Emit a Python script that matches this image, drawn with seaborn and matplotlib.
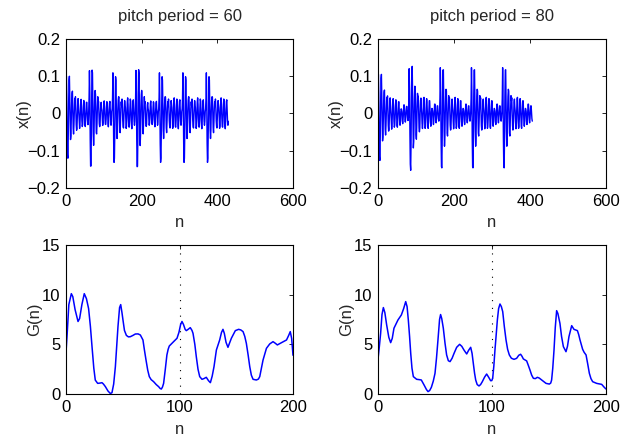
import numpy as np
import pandas as pd
import matplotlib
matplotlib.use("Agg")
import matplotlib.pyplot as plt
import seaborn as sns

# Vocal-tract impulse response (one pitch pulse), sample by sample
pulse = [0.03, 0.10, 0.05, -0.05, -0.11, -0.12, -0.06, 0.03, 0.09, 0.10,
         0.04, -0.03, -0.07, -0.06, -0.01, 0.03, 0.055, 0.06, 0.01, -0.04,
         -0.055, -0.03, 0.01, 0.04, 0.035, 0.045, 0.01, -0.03, -0.045, -0.04,
         0.0, 0.03, 0.04, 0.02, 0.005, -0.025, -0.04, -0.025, 0.01, 0.035,
         0.038, 0.015, -0.02, -0.035, -0.03, -0.01, 0.02, 0.035, 0.025, -0.005,
         -0.03, -0.035, -0.012, 0.015, 0.03, 0.03, 0.005, -0.02, -0.03, -0.02,
         0.005, 0.012, 0.01, 0.004, -0.018, -0.026, -0.015, 0.006, 0.022, 0.022,
         0.004, -0.015, -0.022, -0.012, 0.006, 0.018, 0.018, 0.004, -0.012, -0.018,
         -0.01, 0.003, 0.006, 0.008, 0.003, -0.01, -0.015, -0.008, 0.004, 0.012,
         0.012, 0.003, -0.008, -0.012, -0.007, 0.003, 0.01, 0.01, 0.002, -0.007,
         -0.01, -0.006, 0.002, 0.008, 0.008, 0.002, -0.005, -0.008, -0.005, 0.002,
         0.006, 0.006, 0.001, -0.004, -0.006, -0.004, 0.001, 0.005, 0.004, 0.0]

# Glottal pulse onsets and amplitudes for the two pitch periods
onsets_60 = [0, 61, 123, 184, 246, 308, 370]
amps_60 = [1.0, 1.05, 1.05, 1.05, 1.05, 1.05, 1.05]
length_60 = 430

onsets_80 = [0, 81, 163, 245, 327]
amps_80 = [1.05, 1.14, 1.14, 1.14, 1.14]
length_80 = 407

# G(n) for pitch period 60
g60_n = [0, 1, 2.5, 4.7, 6, 8, 10.6, 12, 14, 16.1, 18, 19.9, 21.5, 22.9, 24.5, 25.8,
         27.9, 30, 31.7, 33, 34.7, 37, 39.1, 40.5, 42, 43.5, 45.8, 47.2, 48.2, 49.3,
         50.2, 51.5, 53.2, 55, 56.7, 59, 61.1, 63.5, 65.5, 67.8, 69, 70.5, 72, 73.4,
         75, 77.2, 79.5, 81.6, 83, 84, 85, 86, 87.5, 88.9, 90, 91, 94.8, 97.8, 99.5,
         101, 102.2, 103.5, 105, 106, 107.5, 109.5, 111, 111.9, 113.5, 114.8, 116.3,
         117.8, 119.8, 121.5, 123.6, 125.5, 127.2, 128.8, 130.4, 132.5, 135.4, 137,
         138.3, 139.5, 141, 142.7, 144, 145.7, 149.2, 152.1, 154, 156, 157.5, 158.9,
         160.5, 161.9, 163.3, 164.8, 167.7, 169.5, 170.7, 172, 173.6, 176.6, 179.5,
         182.4, 184.5, 186.2, 189.9, 194.3, 196.2, 197.6, 198.8, 200]
g60 = [4.2, 6.0, 9.0, 10.1, 9.8, 8.5, 7.3, 7.6, 9.0, 10.1, 9.6, 8.6, 6.8, 4.8, 2.6, 1.4,
       1.07, 1.1, 1.14, 1.0, 0.74, 0.3, 0.05, 0.13, 1.0, 2.75, 6.8, 8.7, 9.0, 8.2,
       7.45, 6.4, 5.9, 5.75, 5.77, 5.9, 6.04, 6.05, 5.94, 5.44, 4.5, 3.42, 2.4, 1.75,
       1.45, 1.24, 0.95, 0.74, 0.55, 0.5, 0.7, 1.07, 2.5, 3.93, 4.5, 4.83, 5.27, 5.61, 6.2,
       7.0, 7.3, 7.0, 6.5, 6.38, 6.5, 6.68, 6.4, 6.11, 5.0, 3.76, 2.5,
       1.75, 1.48, 1.55, 1.68, 1.35, 1.14, 1.8, 2.75, 4.43, 5.44, 6.2,
       6.51, 6.1, 5.2, 4.7, 5.1, 5.61, 6.38, 6.51, 6.45, 6.28, 5.8, 5.10,
       3.9, 2.75, 1.9, 1.48, 1.41, 1.5, 1.75, 2.5, 3.42, 4.6, 5.04,
       5.27, 5.1, 4.94, 5.17, 5.44, 5.9, 6.28, 5.6, 3.9]

# G(n) for pitch period 80
g80_n = [0, 1.2, 2.3, 3.5, 4.7, 6, 7.6, 9.5, 11.1, 12.5, 14, 17.5, 20.5, 22.5, 24.3,
         25.5, 26.6, 27.7, 28.7, 29.8, 31, 33.9, 36, 38, 40.4, 42.5, 43.9, 45.3, 46.8,
         48.5, 50, 51.3, 52.6, 54, 54.9, 55.9, 57.3, 58.8, 60.2, 61.7, 63.2, 65, 66.7,
         69, 71.6, 73.5, 75.4, 77.8, 79.5, 81.3, 82.5, 83.6, 84.7, 85.7, 87, 88.6, 90,
         91.5, 93.5, 95.3, 97, 98.8, 99.8, 100.6, 101.6, 102.6, 103.7, 104.7, 105.8,
         107, 108.2, 109.4, 110.8, 112.3, 113.7, 115.2, 117, 119.3, 121.6, 123.5,
         125.1, 126.3, 127.5, 130.4, 131.8, 133.3, 134.8, 136.3, 138, 139.8, 141.5,
         143.6, 147.4, 150.3, 151.5, 152.3, 153.3, 154.4, 155.5, 156.7, 157.8, 159.6,
         161, 162.6, 164.9, 166.2, 167.5, 169.9, 171.9, 174.9, 176, 177.2, 179.5,
         180.8, 182.5, 184, 185.4, 186.8, 188.3, 191.8, 196.2, 198.5, 200]
g80 = [3.5, 4.8, 6.1, 8.0, 8.7, 8.2, 6.95, 5.7, 5.17, 5.6, 6.62, 7.45, 7.96, 8.6, 9.3,
       8.8, 7.45, 5.8, 4.09, 2.6, 1.75, 1.48, 1.45, 1.41, 0.91, 0.45, 0.24, 0.35, 0.67,
       1.3, 2.08, 3.6, 5.44, 7.5, 8.0, 7.6, 6.62, 5.1, 3.93, 3.35, 3.26, 3.6, 4.09,
       4.7, 5.0, 4.8, 4.43, 4.03, 4.4, 4.70, 4.1, 3.09, 2.1, 1.41, 0.95, 0.81, 0.95,
       1.24, 1.7, 2.01, 1.7, 1.34, 1.35, 1.58, 2.8, 4.43, 6.0, 7.45, 8.6,
       9.06, 8.8, 8.29, 6.8, 5.44, 4.5, 3.93, 3.6, 3.49, 3.59, 3.9,
       4.0, 3.8, 3.53, 3.33, 2.9, 2.42, 1.9, 1.58, 1.55, 1.68, 1.6,
       1.41, 1.07, 1.0, 1.1, 1.41, 2.6, 4.43, 6.7, 8.39, 8.1, 7.11,
       5.8, 4.77, 4.26, 4.8, 5.77, 6.88, 6.51, 6.38, 6.0, 5.44, 4.5,
       4.2, 3.93, 3.0, 2.08, 1.55, 1.24, 1.07, 0.97, 0.67, 0.5]

titles = ["pitch period = 60", "pitch period = 80"]
marker_n = 100


def synthesize(onsets, amps, length):
    h = np.asarray(pulse)
    x = np.zeros(length)
    for t0, a in zip(onsets, amps):
        seg = h[: max(0, min(len(h), length - t0))]
        x[t0:t0 + len(seg)] += a * seg
    return x


sns.set_style("white")
plt.rcParams["font.family"] = ["Liberation Sans", "DejaVu Sans"]
plt.rcParams["axes.unicode_minus"] = True

fig = plt.figure(figsize=(6.23, 4.37), dpi=100)
col_x = [66 / 623, 378 / 623]
col_w = [227 / 623, 228 / 623]
row_y = [1 - 188 / 437, 1 - 394 / 437]
row_h = 149 / 437

blue = (0, 0, 1)
fs = 12


def style(ax):
    for s in ax.spines.values():
        s.set_color("black")
        s.set_linewidth(0.8)
        s.set_visible(True)
    ax.tick_params(direction="in", length=3, width=0.6, top=True, right=True,
                   labelsize=fs, colors="black", pad=4)
    ax.grid(False)


signals = [synthesize(onsets_60, amps_60, length_60),
           synthesize(onsets_80, amps_80, length_80)]
gcurves = [(g60_n, g60), (g80_n, g80)]

for c in range(2):
    ax = fig.add_axes([col_x[c], row_y[0], col_w[c], row_h])
    x = signals[c]
    df = pd.DataFrame({"n": np.arange(len(x)), "x": x})
    sns.lineplot(data=df, x="n", y="x", ax=ax, color=blue, linewidth=1.0,
                 estimator=None, sort=False)
    ax.set_xlim(0, 600)
    ax.set_ylim(-0.2, 0.2)
    ax.set_xticks([0, 200, 400, 600])
    ax.set_yticks([-0.2, -0.1, 0, 0.1, 0.2])
    ax.set_yticklabels(["\u22120.2", "\u22120.1", "0", "0.1", "0.2"])
    ax.set_xlabel("n", fontsize=fs, labelpad=5)
    ax.set_ylabel("x(n)", fontsize=fs, labelpad=-3)
    ax.set_title(titles[c], fontsize=fs, pad=13)
    style(ax)

    ax2 = fig.add_axes([col_x[c], row_y[1], col_w[c], row_h])
    gn, gv = gcurves[c]
    dfg = pd.DataFrame({"n": gn, "G": gv})
    ax2.axvline(marker_n, color="black", linestyle=(0, (1, 6)), linewidth=0.8)
    sns.lineplot(data=dfg, x="n", y="G", ax=ax2, color=blue, linewidth=1.1,
                 estimator=None, sort=False)
    ax2.set_xlim(0, 200)
    ax2.set_ylim(0, 15)
    ax2.set_xticks([0, 100, 200])
    ax2.set_yticks([0, 5, 10, 15])
    ax2.set_xlabel("n", fontsize=fs, labelpad=5)
    ax2.set_ylabel("G(n)", fontsize=fs, labelpad=0)
    style(ax2)

fig.savefig("out.png", dpi=100)
